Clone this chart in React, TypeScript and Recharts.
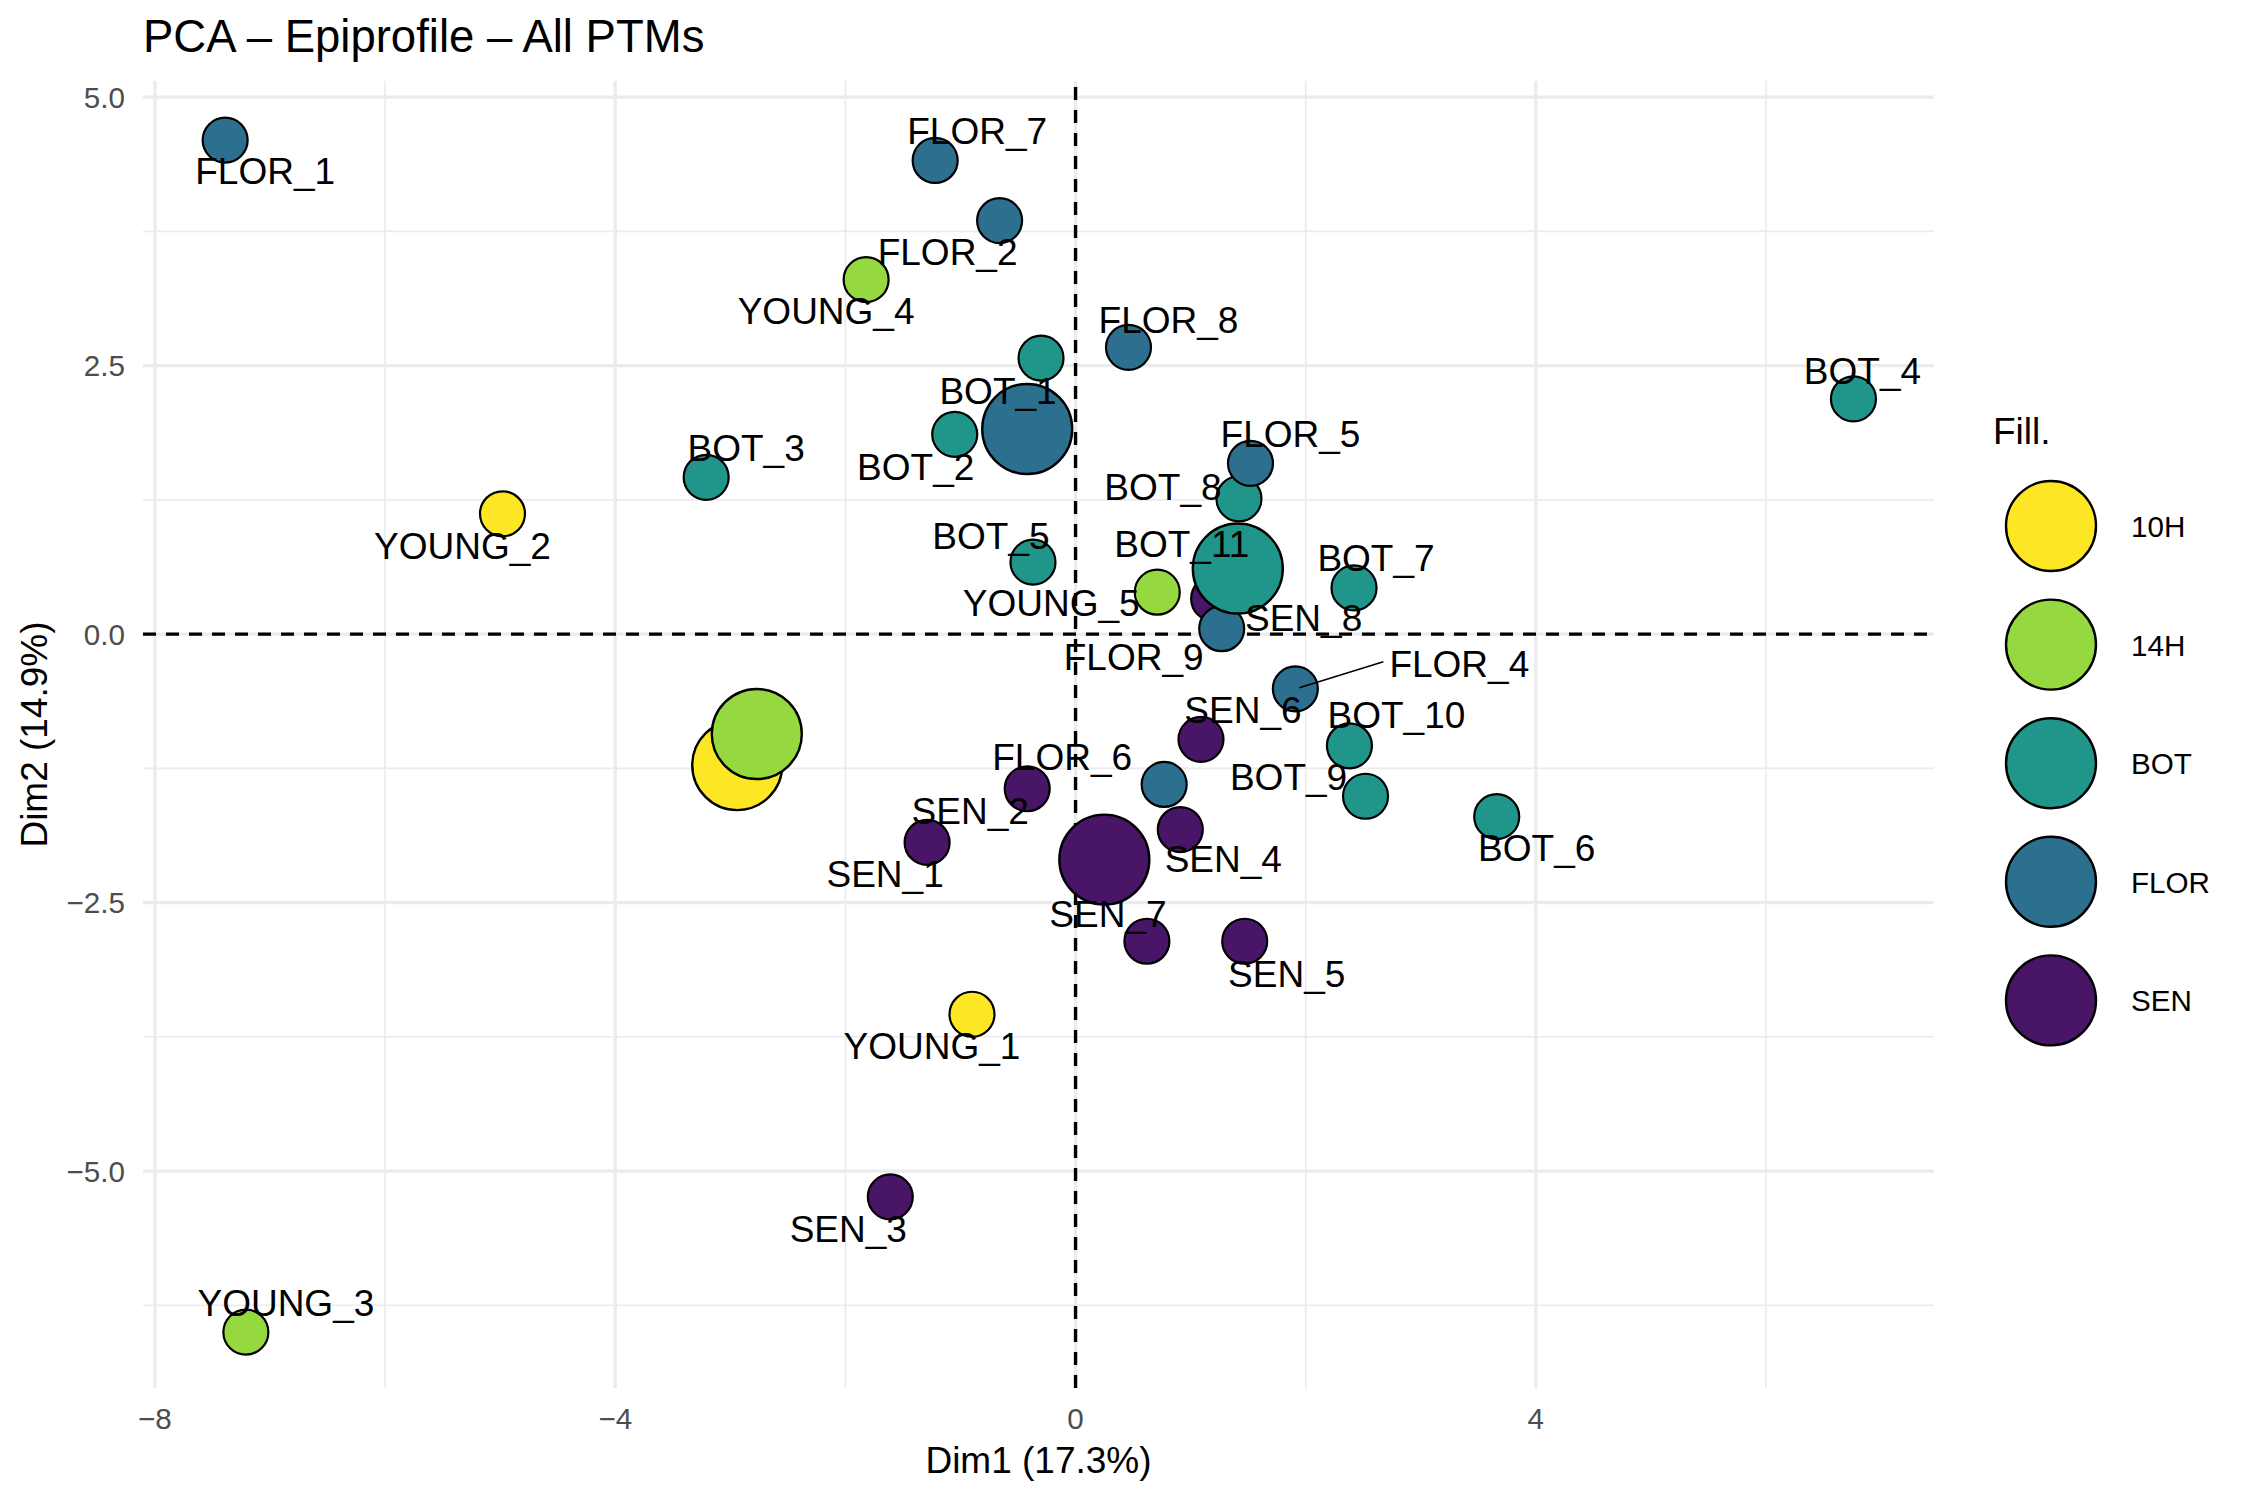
import React from 'react';
import { ScatterChart, Scatter, XAxis, YAxis, ReferenceLine } from 'recharts';

const FONT = '"Liberation Sans", Arial, Helvetica, sans-serif';

// groups (legend order) and their viridis fills
const groups = ['10H', '14H', 'BOT', 'FLOR', 'SEN'];
const groupColors = ['#FDE725', '#95D840', '#20968B', '#2D6F8E', '#481567'];

// individual samples
const sampleNames = [
  'BOT_1', 'BOT_2', 'BOT_3', 'BOT_4', 'BOT_5', 'BOT_6', 'BOT_7', 'BOT_8', 'BOT_9', 'BOT_10', 'BOT_11',
  'SEN_1', 'SEN_2', 'SEN_3', 'SEN_4', 'SEN_5', 'SEN_6', 'SEN_7', 'SEN_8',
  'FLOR_1', 'FLOR_2', 'FLOR_4', 'FLOR_5', 'FLOR_6', 'FLOR_7', 'FLOR_8', 'FLOR_9',
  'YOUNG_1', 'YOUNG_2', 'YOUNG_3', 'YOUNG_4', 'YOUNG_5',
];
const sampleGroups = [
  'BOT', 'BOT', 'BOT', 'BOT', 'BOT', 'BOT', 'BOT', 'BOT', 'BOT', 'BOT', 'BOT',
  'SEN', 'SEN', 'SEN', 'SEN', 'SEN', 'SEN', 'SEN', 'SEN',
  'FLOR', 'FLOR', 'FLOR', 'FLOR', 'FLOR', 'FLOR', 'FLOR', 'FLOR',
  '10H', '10H', '14H', '14H', '14H',
];
const dim1 = [
  -0.30, -1.05, -3.21, 6.76, -0.37, 3.66, 2.42, 1.42, 2.52, 2.38, 1.28,
  -1.29, -0.42, -1.61, 0.91, 1.47, 1.09, 0.62, 1.20,
  -7.39, -0.66, 1.91, 1.52, 0.77, -1.22, 0.46, 1.27,
  -0.90, -4.98, -7.21, -1.82, 0.71,
];
const dim2 = [
  2.57, 1.86, 1.46, 2.19, 0.67, -1.70, 0.43, 1.26, -1.51, -1.04, 0.52,
  -1.94, -1.44, -5.24, -1.82, -2.86, -0.98, -2.86, 0.33,
  4.60, 3.85, -0.51, 1.59, -1.40, 4.41, 2.67, 0.05,
  -3.54, 1.12, -6.50, 3.30, 0.39,
];

// group centroids (same order as groups)
const centroidDim1 = [-2.94, -2.77, 1.41, -0.42, 0.25];
const centroidDim2 = [-1.22, -0.93, 0.61, 1.91, -2.10];

const xTicks = [-8, -4, 0, 4];
const yTicks = [-5, -2.5, 0, 2.5, 5];
const xMinor = [-6, -2, 2, 6];
const yMinor = [-6.25, -3.75, -1.25, 1.25, 3.75];

// repel-style label offsets in px from the point centre
const labelOffsets: Record<string, [number, number]> = {
  FLOR_1: [40, 31], FLOR_7: [42, -29], FLOR_2: [-52, 32], YOUNG_4: [-40, 32],
  FLOR_8: [40, -27], BOT_4: [9, -27], BOT_1: [-43, 33], BOT_2: [-39, 33],
  BOT_3: [40, -29], YOUNG_2: [-40, 33], FLOR_5: [40, -29], BOT_8: [-76, -11],
  BOT_5: [-42, -26], BOT_11: [-41, -34], YOUNG_5: [-106, 11], BOT_7: [22, -29],
  SEN_8: [90, 20], FLOR_9: [-88, 29], FLOR_4: [164, -24], SEN_6: [42, -29],
  BOT_10: [47, -30], FLOR_6: [-102, -27], BOT_9: [-77, -19], BOT_6: [40, 32],
  SEN_2: [-57, 23], SEN_1: [-42, 32], SEN_4: [43, 30], SEN_7: [-39, -27],
  SEN_5: [42, 33], YOUNG_1: [-40, 32], SEN_3: [-42, 33], YOUNG_3: [40, -29],
};
const labelSegments: Record<string, [number, number]> = { FLOR_4: [88, -27] };

const colorOf = (g: string) => groupColors[groups.indexOf(g)];

const samples = sampleNames.map((name, i) => ({ name, group: sampleGroups[i], x: dim1[i], y: dim2[i] }));
const centroids = groups.map((g, i) => ({ name: g, group: g, x: centroidDim1[i], y: centroidDim2[i] }));

const fmtTick = (v: number, digits: number) => {
  const s = Math.abs(v).toFixed(digits);
  return v < 0 ? '\u2212' + s : s;
};

const SmallPoint = (props: any) => {
  const { cx, cy, payload } = props;
  return <circle cx={cx} cy={cy} r={22.5} fill={colorOf(payload.group)} stroke="#000" strokeWidth={2.2} />;
};

const BigPoint = (props: any) => {
  const { cx, cy, payload } = props;
  return <circle cx={cx} cy={cy} r={45} fill={colorOf(payload.group)} stroke="#000" strokeWidth={2.4} />;
};

const PointLabel = (props: any) => {
  const { cx, cy, payload } = props;
  const off = labelOffsets[payload.name] || [0, -30];
  const seg = labelSegments[payload.name];
  return (
    <g>
      {seg && <line x1={cx + 4} y1={cy - 1} x2={cx + seg[0]} y2={cy + seg[1]} stroke="#000" strokeWidth={1.6} />}
      <text
        x={cx + off[0]}
        y={cy + off[1]}
        textAnchor="middle"
        dominantBaseline="central"
        fontFamily={FONT}
        fontSize={37}
        fill="#000"
      >
        {payload.name}
      </text>
    </g>
  );
};

export default function App() {
  const tickStyle = { fill: '#4D4D4D', fontSize: 29.6, fontFamily: FONT };
  return (
    <div style={{ position: 'absolute', left: 0, top: 0, width: 2250, height: 1500, background: '#fff' }}>
      <ScatterChart width={2250} height={1500} margin={{ top: 81, right: 316, bottom: 0, left: 0 }}>
        <XAxis
          type="number"
          dataKey="x"
          domain={[-8.104, 7.46]}
          ticks={xTicks}
          allowDataOverflow
          axisLine={false}
          tickLine={false}
          tickSize={0}
          tickMargin={20}
          height={112}
          tick={tickStyle}
          tickFormatter={(v: number) => fmtTick(v, 0)}
          label={{ value: 'Dim1 (17.3%)', position: 'insideBottom', offset: 27, fill: '#000', fontSize: 37, fontFamily: FONT }}
        />
        <YAxis
          type="number"
          dataKey="y"
          domain={[-7.02, 5.15]}
          ticks={yTicks}
          allowDataOverflow
          axisLine={false}
          tickLine={false}
          tickSize={0}
          tickMargin={18}
          width={143}
          tick={tickStyle}
          tickFormatter={(v: number) => fmtTick(v, 1)}
          label={{
            value: 'Dim2 (14.9%)',
            angle: -90,
            position: 'insideLeft',
            offset: 34,
            fill: '#000',
            fontSize: 37,
            fontFamily: FONT,
            style: { textAnchor: 'middle' },
          }}
        />
        {xMinor.map((v) => (
          <ReferenceLine key={'xm' + v} x={v} stroke="#EBEBEB" strokeWidth={1.6} />
        ))}
        {yMinor.map((v) => (
          <ReferenceLine key={'ym' + v} y={v} stroke="#EBEBEB" strokeWidth={1.6} />
        ))}
        {xTicks.map((v) => (
          <ReferenceLine key={'xM' + v} x={v} stroke="#EBEBEB" strokeWidth={3.2} />
        ))}
        {yTicks.map((v) => (
          <ReferenceLine key={'yM' + v} y={v} stroke="#EBEBEB" strokeWidth={3.2} />
        ))}
        <Scatter data={samples} shape={SmallPoint} isAnimationActive={false} />
        <Scatter data={centroids} shape={BigPoint} isAnimationActive={false} />
        <ReferenceLine x={0} stroke="#000" strokeWidth={3.4} strokeDasharray="13 10" />
        <ReferenceLine y={0} stroke="#000" strokeWidth={3.4} strokeDasharray="13 10" />
        <Scatter data={samples} shape={PointLabel} isAnimationActive={false} />
      </ScatterChart>
      <svg width={2250} height={1500} style={{ position: 'absolute', left: 0, top: 0, pointerEvents: 'none' }}>
        <text x={143} y={52} fontFamily={FONT} fontSize={45.5} fill="#000">
          PCA – Epiprofile – All PTMs
        </text>
        <text x={1993} y={444} fontFamily={FONT} fontSize={37} fill="#000">
          Fill.
        </text>
        {groups.map((g, i) => (
          <g key={g}>
            <circle cx={2051} cy={526 + i * 118.6} r={45} fill={groupColors[i]} stroke="#000" strokeWidth={2.4} />
            <text x={2131} y={537 + i * 118.6} fontFamily={FONT} fontSize={29.6} fill="#000">
              {g}
            </text>
          </g>
        ))}
      </svg>
    </div>
  );
}
